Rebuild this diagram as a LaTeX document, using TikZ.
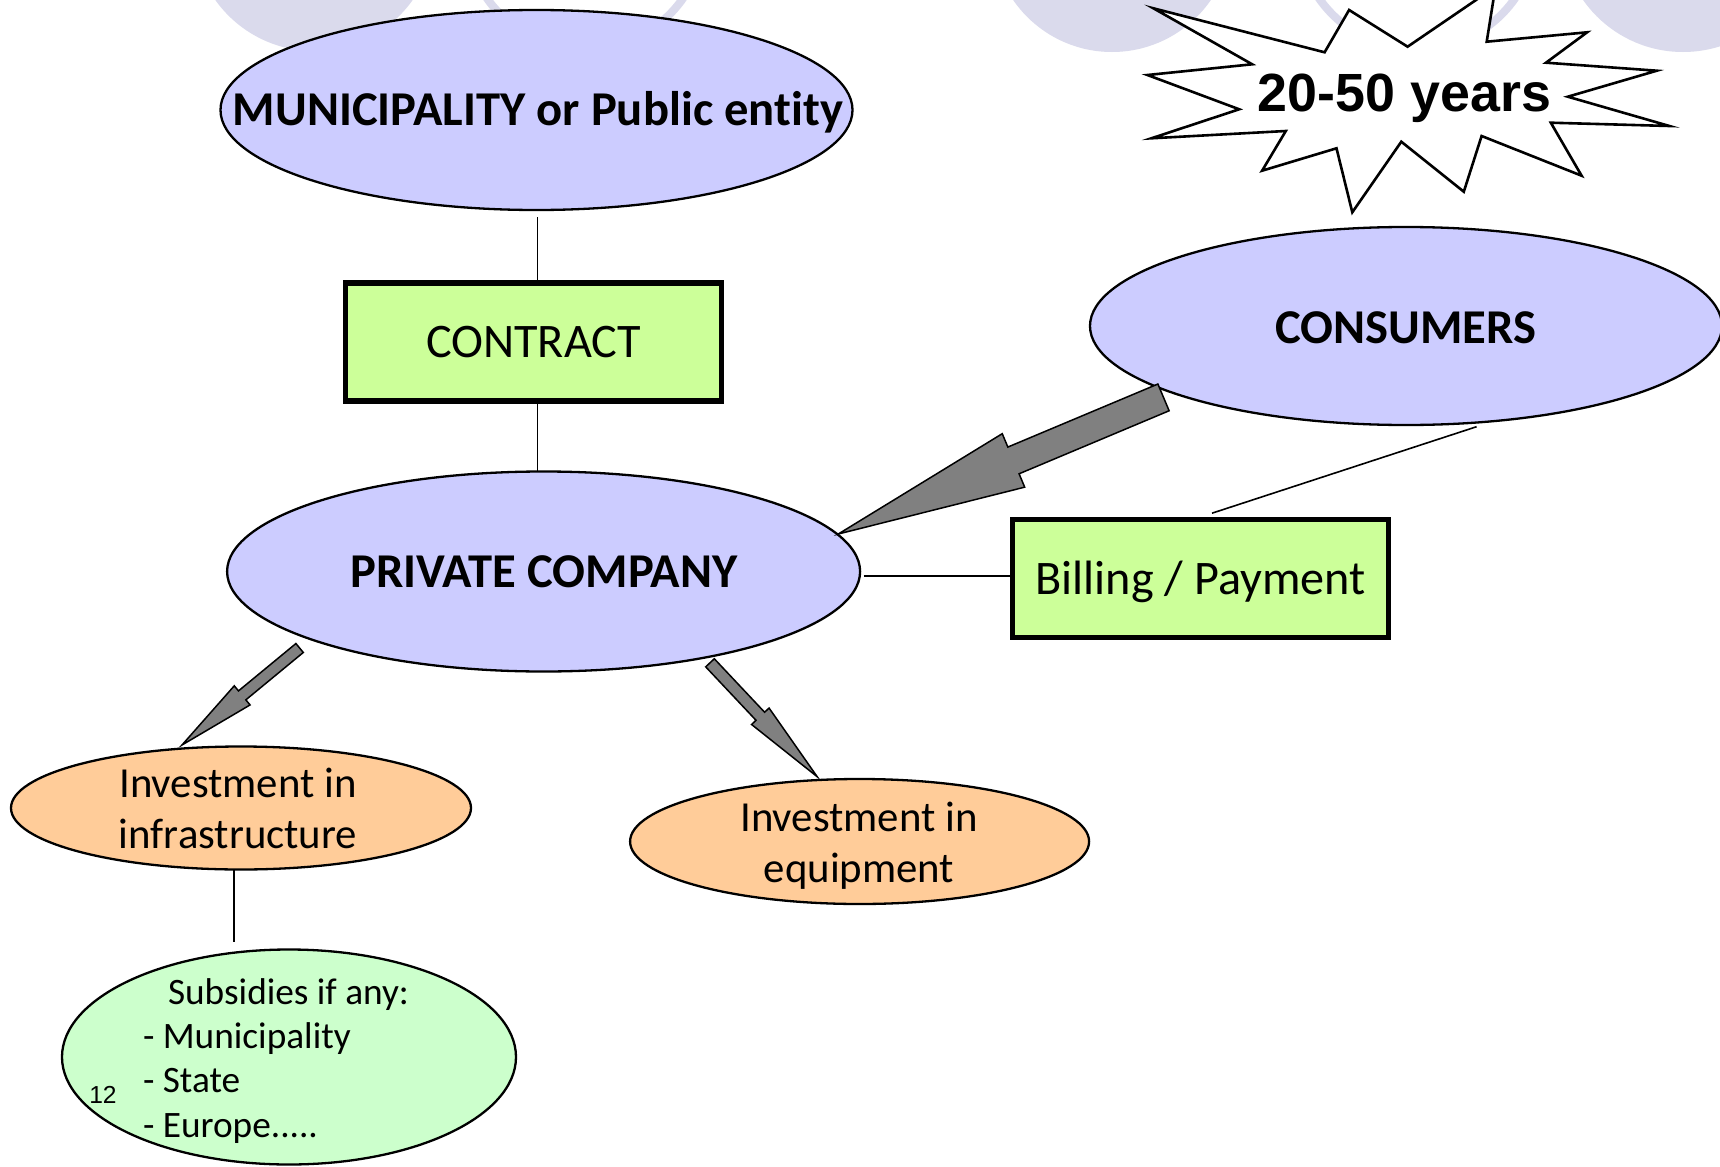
\documentclass[tikz,border=0pt]{standalone}
\usepackage{fontspec}
\setmainfont{Carlito}[Ligatures=NoCommon]
\newfontfamily\arialfont{Liberation Sans}
\usetikzlibrary{shapes.geometric,calc}
\definecolor{ellblue}{HTML}{CCCCFF}
\definecolor{boxgreen}{HTML}{CCFF99}
\definecolor{ellorange}{HTML}{FFCC99}
\definecolor{ellgreen}{HTML}{CCFFCC}
\definecolor{blobcol}{HTML}{DADAEC}
\definecolor{arrowgray}{HTML}{808080}
\tikzset{
  ellbase/.style={ellipse, draw=black, line width=1.15pt, inner sep=0pt, outer sep=0pt},
  blueell/.style={ellbase, fill=ellblue},
  orangeell/.style={ellbase, fill=ellorange},
  greenell/.style={ellbase, fill=ellgreen},
  greenbox/.style={rectangle, draw=black, line width=2.7pt, fill=boxgreen, inner sep=0pt,
    minimum width=187.8pt, minimum height=59pt, text height=15.7pt, text depth=0pt,
    font=\fontsize{24.1}{28}\selectfont},
  boldtxt/.style={inner sep=0pt, font=\fontsize{24.3}{28}\selectfont\bfseries},
  invtxt/.style={inner sep=0pt, align=center, font=\fontsize{21.4}{25.6}\selectfont},
  subtxt/.style={inner sep=0pt, align=left, font=\fontsize{18.65}{22.15}\selectfont},
  conn/.style={draw=black, line width=0.8pt},
  arrowst/.style={draw=black, line width=0.75pt, fill=arrowgray, line join=miter},
  blob/.style={fill=blobcol},
  ring/.style={draw=blobcol, line width=4pt},
  starst/.style={draw=black, line width=1.3pt, fill=white, line join=miter}
}
\newcommand\blockarr[5]{%
  \coordinate (ba-h) at ($(#2)!#5!(#1)$);
  \draw[arrowst] ($(#1)!#3!90:(#2)$) -- ($(ba-h)!#3!90:(#2)$) -- ($(ba-h)!#4!90:(#2)$)
    -- (#2) -- ($(ba-h)!#4!-90:(#2)$) -- ($(ba-h)!#3!-90:(#2)$) -- ($(#1)!#3!-90:(#2)$) -- cycle;}
\begin{document}
\begin{tikzpicture}[x=0.5pt,y=-0.5pt]
\useasboundingbox (0,0) rectangle (1720,1167);
\clip (0,0) rectangle (1720,1167);
\fill[white] (0,0) rectangle (1720,1167);
% background decoration
\fill[blob] (314,-70) circle[radius=121];
\draw[ring] (585,-70) circle[radius=119.5];
\fill[blob] (1112,-68) circle[radius=120];
\draw[ring] (1417,-70) circle[radius=119.5];
\fill[blob] (1683,-70) circle[radius=122];
% star
\draw[starst] (1153.4,8.3) -- (1324.6,52.3) -- (1349.1,10) -- (1407.6,46.7) -- (1495.5,-13.3)
  -- (1486.7,41.7) -- (1587.1,32.3) -- (1546,62.7) -- (1656.8,70.7) -- (1567.8,96.7)
  -- (1669.4,126) -- (1550.8,122.7) -- (1581.6,175.7) -- (1481.6,136) -- (1463.8,191.7)
  -- (1401.3,141.7) -- (1352.3,212.3) -- (1336.5,148.3) -- (1262.1,170.7) -- (1285.8,131)
  -- (1151.4,138.3) -- (1239.2,109.3) -- (1147.4,75) -- (1252.2,64.3) -- cycle;
\node[inner sep=0pt, anchor=base, font=\arialfont\fontsize{26.9}{30}\selectfont\bfseries] (years) at (1404.5,111) {20-50 years};
% main nodes
\node[blueell, minimum width=316pt, minimum height=100pt] (muni) at (536.5,110) {};
\node[greenbox] (contract) at (533.5,342) {CONTRACT};
\node[blueell, minimum width=316.5pt, minimum height=100pt] (priv) at (543.6,571.5) {};
\node[blueell, minimum width=316pt, minimum height=99pt] (cons) at (1406,326) {};
\node[greenbox] (billing) at (1200.5,578.5) {Billing / Payment};
\node[orangeell, minimum width=230pt, minimum height=61.5pt] (infra) at (241,808) {};
\node[orangeell, minimum width=229.5pt, minimum height=62.5pt] (equip) at (859.6,841.5) {};
\node[greenell, minimum width=227pt, minimum height=107.5pt] (subs) at (289,1057) {};
% texts
\node[boldtxt, anchor=base] (muniT) at (538,125) {MUNICIPALITY or Public entity};
\node[boldtxt, anchor=base] (consT) at (1406,343.5) {CONSUMERS};
\node[boldtxt, anchor=base] (privT) at (544,587.7) {PRIVATE COMPANY};
\node[invtxt] (infraT) at (238,808.5) {Investment in\\infrastructure};
\node[invtxt] (equipT) at (859,845.5) {Investment in\\equipment};
\node[subtxt, anchor=north west] (subsT) at (142.6,978) {\hspace*{12.5pt}Subsidies if any:\\- Municipality\\- State\\- Europe.....};
\node[inner sep=0pt, font=\arialfont\fontsize{12.3}{14}\selectfont] (pagenum) at (103,1095) {12};
% connectors
\coordinate (m1) at ($(muni.south)+(1,7)$);
\draw[conn] (m1) -- (m1 |- contract.north);
\coordinate (c1) at ($(contract.south)+(4,0)$);
\draw[conn] (c1) -- (c1 |- priv.north);
\coordinate (pb) at ($(priv.center)+(320,4.5)$);
\draw[conn] (pb) -- (pb -| billing.west);
\coordinate (cb1) at ($(cons.center)+(70.6,100.7)$);
\coordinate (cb2) at ($(billing.north)+(11.5,-3.6)$);
\draw[conn] (cb1) -- (cb2);
\coordinate (is1) at ($(infra.south)+(-7.3,0)$);
\coordinate (is2) at ($(subs.north)+(-55.3,-8)$);
\draw[conn] (is1) -- (is1 |- is2);
% block arrows
\coordinate (bigT) at ($(cons.center)+(-242.5,71.4)$);
\coordinate (bigP) at ($(priv.center)+(294.7,-37.5)$);
\blockarr{bigT}{bigP}{7.25pt}{14.5pt}{95pt}
\coordinate (inT) at ($(priv.center)+(-244,76.5)$);
\coordinate (inP) at ($(infra.center)+(-59,-63)$);
\blockarr{inT}{inP}{2.9pt}{6.2pt}{39pt}
\coordinate (eqT) at ($(priv.center)+(166.4,91.3)$);
\coordinate (eqP) at ($(equip.center)+(-42.4,-64.8)$);
\blockarr{eqT}{eqP}{2.95pt}{6pt}{41.5pt}
\end{tikzpicture}
\end{document}
